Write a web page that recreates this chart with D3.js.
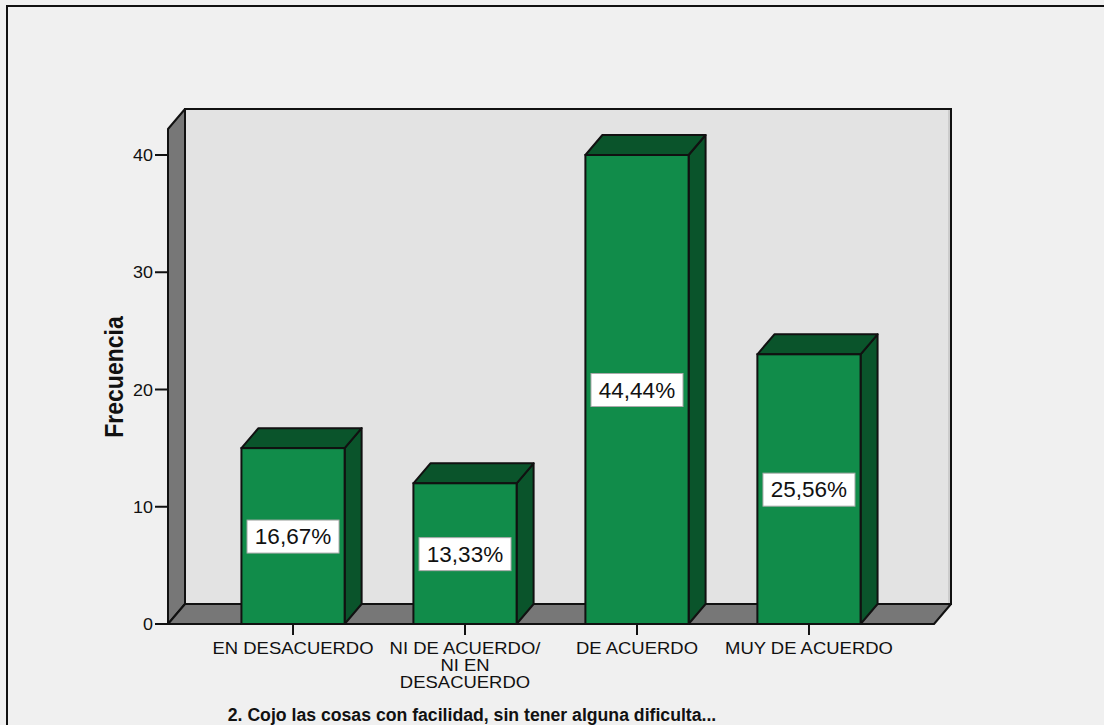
<!DOCTYPE html>
<html>
<head>
<meta charset="utf-8">
<script src="https://cdn.jsdelivr.net/npm/d3@7"></script>
<style>
  html, body { margin: 0; padding: 0; background: #f0f0f0; }
  svg { display: block; font-family: "Liberation Sans", Arial, sans-serif; }
</style>
</head>
<body>
<svg id="chart" width="1104" height="725"></svg>
<script>
// ---- data ----
const categories = ["EN DESACUERDO", "NI DE ACUERDO/\nNI EN\nDESACUERDO", "DE ACUERDO", "MUY DE ACUERDO"];
const frequencies = [15, 12, 40, 23];
const percentLabels = ["16,67%", "13,33%", "44,44%", "25,56%"];
const yTicks = [0, 10, 20, 30, 40];
const yTitle = "Frecuencia";
const chartTitle = "2. Cojo las cosas con facilidad, sin tener alguna dificulta...";

// ---- layout ----
const svg = d3.select("#chart");
const floorY = 624, topY = 155;
const left = 168, right = 934;
const dx = 17, dy = -20;
const sx = 1.12; // horizontal text stretch

const y = d3.scaleLinear().domain([0, 40]).range([floorY, topY]);
const x = d3.scaleBand().domain(categories).range([left, right]).paddingInner(0.4).paddingOuter(0.427);

const colBack = "#e3e3e3", colGray = "#777777", colFront = "#118c4a", colDark = "#0a542b";

// outer frame
svg.append("rect").attr("x", 7).attr("y", 6).attr("width", 1110).attr("height", 730)
  .attr("fill", "#f0f0f0").attr("stroke", "#111").attr("stroke-width", 2);

const wallTop = 129;
// back wall
svg.append("rect").attr("x", left + dx).attr("y", wallTop + dy)
  .attr("width", right - left).attr("height", floorY - wallTop)
  .attr("fill", colBack).attr("stroke", "#111").attr("stroke-width", 2);
svg.append("line").attr("x1", right + dx - 2).attr("x2", right + dx - 2)
  .attr("y1", wallTop + dy + 1).attr("y2", floorY + dy - 1).attr("stroke", "#b5b5b5").attr("stroke-width", 1);
// left wall
svg.append("polygon")
  .attr("points", [[left, wallTop], [left + dx, wallTop + dy], [left + dx, floorY + dy], [left, floorY]].map(p => p.join(",")).join(" "))
  .attr("fill", colGray).attr("stroke", "#111").attr("stroke-width", 2).attr("stroke-linejoin", "round");
// floor
svg.append("polygon")
  .attr("points", [[left, floorY], [left + dx, floorY + dy], [right + dx, floorY + dy], [right, floorY]].map(p => p.join(",")).join(" "))
  .attr("fill", colGray).attr("stroke", "#111").attr("stroke-width", 2).attr("stroke-linejoin", "round");

// bars
const bw = x.bandwidth();
const bars = svg.append("g").selectAll("g").data(categories).join("g");
bars.each(function(c, i) {
  const g = d3.select(this);
  const x0 = x(c), y0 = y(frequencies[i]);
  g.append("polygon")
    .attr("points", [[x0 + bw, y0], [x0 + bw + dx, y0 + dy], [x0 + bw + dx, floorY + dy], [x0 + bw, floorY]].map(p => p.join(",")).join(" "))
    .attr("fill", colDark).attr("stroke", "#111").attr("stroke-width", 2).attr("stroke-linejoin", "round");
  g.append("polygon")
    .attr("points", [[x0, y0], [x0 + dx, y0 + dy], [x0 + bw + dx, y0 + dy], [x0 + bw, y0]].map(p => p.join(",")).join(" "))
    .attr("fill", colDark).attr("stroke", "#111").attr("stroke-width", 2).attr("stroke-linejoin", "round");
  g.append("rect").attr("x", x0).attr("y", y0).attr("width", bw).attr("height", floorY - y0)
    .attr("fill", colFront).attr("stroke", "#111").attr("stroke-width", 2);
  // percent label
  const cx = x0 + bw / 2, cy = (y0 + floorY) / 2;
  g.append("rect").attr("x", cx - 46).attr("y", cy - 16).attr("width", 92).attr("height", 33)
    .attr("fill", "#fff").attr("stroke", "#aaa").attr("stroke-width", 1);
  g.append("text").attr("x", cx).attr("y", cy + 8).attr("text-anchor", "middle")
    .attr("font-size", 22.5).attr("fill", "#111").text(percentLabels[i]);
});

// y axis ticks and labels
const yAxis = svg.append("g");
yTicks.forEach(t => {
  yAxis.append("line").attr("x1", left - 13).attr("x2", left).attr("y1", y(t)).attr("y2", y(t))
    .attr("stroke", "#111").attr("stroke-width", 2);
  yAxis.append("text").attr("transform", `translate(${left - 15},${y(t) + 6}) scale(${sx},1)`)
    .attr("text-anchor", "end").attr("font-size", 16).attr("fill", "#111").text(t);
});

// x axis ticks and labels
const xAxis = svg.append("g");
categories.forEach(c => {
  const cx = x(c) + bw / 2;
  xAxis.append("line").attr("x1", cx).attr("x2", cx).attr("y1", floorY).attr("y2", floorY + 11)
    .attr("stroke", "#111").attr("stroke-width", 2);
  c.split("\n").forEach((ln, j) => {
    xAxis.append("text").attr("transform", `translate(${cx},${654 + j * 17}) scale(${sx},1)`)
      .attr("text-anchor", "middle").attr("font-size", 16.5).attr("fill", "#111").text(ln);
  });
});

// y title
svg.append("text").attr("transform", `translate(123,377) scale(1.15,1) rotate(-90)`)
  .attr("text-anchor", "middle").attr("font-size", 23).attr("font-weight", "bold").attr("fill", "#111").text(yTitle);

// chart title
svg.append("text").attr("transform", `translate(472,721) scale(0.93,1)`)
  .attr("text-anchor", "middle").attr("font-size", 19).attr("font-weight", "bold").attr("fill", "#111").text(chartTitle);
</script>
</body>
</html>
